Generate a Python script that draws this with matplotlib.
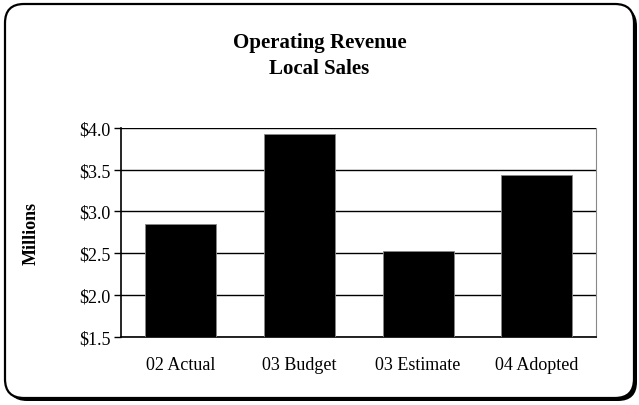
import matplotlib.pyplot as plt
from matplotlib.patches import FancyBboxPatch

categories = ["02 Actual", "03 Budget", "03 Estimate", "04 Adopted"]
revenue = [2.85, 3.93, 2.52, 3.43]
yticks = [1.5, 2.0, 2.5, 3.0, 3.5, 4.0]

plt.rcParams['font.family'] = ['Liberation Serif', 'DejaVu Serif']

fig = plt.figure(figsize=(6.39, 4.06), dpi=100)

# rounded frame with a drop shadow (inch coordinates keep the corners circular)
box = dict(boxstyle="round,pad=0,rounding_size=0.19", transform=fig.dpi_scale_trans)
shadow = FancyBboxPatch((0.08, 0.04), 6.29, 3.94, facecolor="black", edgecolor="none",
                        zorder=0, **box)
frame = FancyBboxPatch((0.05, 0.07), 6.29, 3.94, facecolor="white", edgecolor="black",
                       linewidth=1.6, zorder=1, **box)
fig.patches.extend([shadow, frame])

ax = fig.add_axes([0.19, 0.168, 0.743, 0.515])
ax.set_zorder(2)
ax.bar(range(len(categories)), revenue, width=0.6, color="black", edgecolor="#888888",
       linewidth=0.6, zorder=3)
ax.set_xlim(-0.5, len(categories) - 0.5)
ax.set_ylim(1.5, 4.0)
ax.set_yticks(yticks)
ax.set_yticklabels([f"${v:.1f}" for v in yticks], fontsize=13)
ax.set_xticks(range(len(categories)))
ax.set_xticklabels(categories, fontsize=13)
ax.tick_params(axis="x", length=0, pad=14)
ax.tick_params(axis="y", direction="out", length=5, width=1.0, pad=3)
ax.grid(axis="y", color="black", linewidth=1.0, zorder=1)
ax.spines["right"].set_color("#888888")
ax.spines["top"].set_visible(False)
for s in ("left", "bottom"):
    ax.spines[s].set_linewidth(1.2)
ax.set_ylabel("Millions", fontsize=13, fontweight="bold", labelpad=28)

fig.text(0.5, 0.862, "Operating Revenue\nLocal Sales", ha="center", va="center",
         fontsize=15, fontweight="bold", linespacing=1.45)

fig.savefig("out.png", dpi=100)
